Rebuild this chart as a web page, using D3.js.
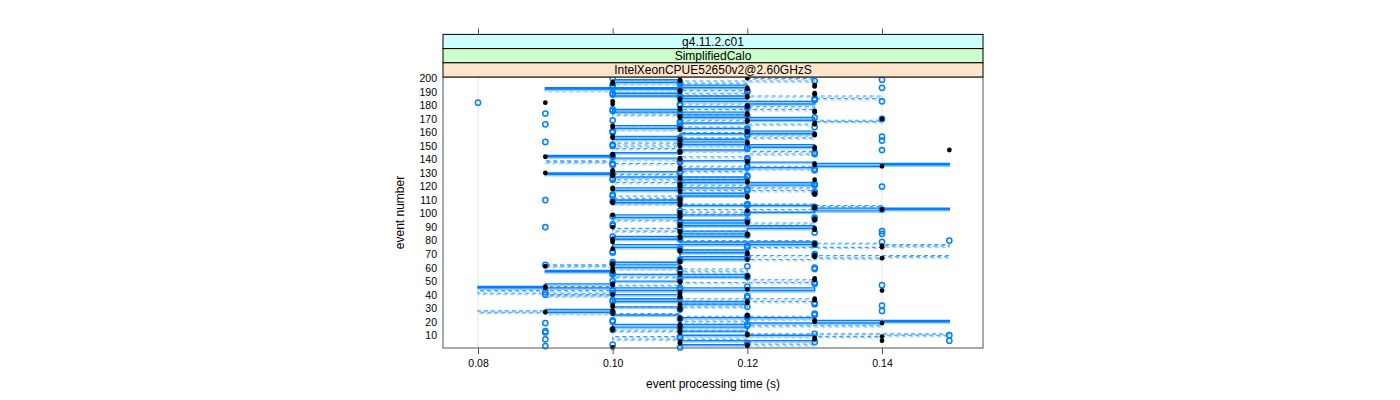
<!DOCTYPE html>
<html><head><meta charset="utf-8">
<script src="https://cdn.jsdelivr.net/npm/d3@7"></script>
<style>
body{margin:0;background:#fff}
text{font-family:"Liberation Sans",Arial,Helvetica,sans-serif;fill:#000}
</style>
</head><body>
<svg id="chart" width="1400" height="400"></svg>
<script>
// ---- data ----
const stripLabels = ["g4.11.2.c01", "SimplifiedCalo", "IntelXeonCPUE52650v2@2.60GHzS"];
const stripColors = ["#ccffff", "#ccffcc", "#ffe5cc"];
const xTickValues = [0.08, 0.10, 0.12, 0.14];
const xTickLabels = ["0.08", "0.10", "0.12", "0.14"];
const yTickValues = [10,20,30,40,50,60,70,80,90,100,110,120,130,140,150,160,170,180,190,200];
const xTitle = "event processing time (s)";
const yTitle = "event number";

// event times (s) for events 1..200
const blackTimes = [
0.10,0.12,0.12,0.11,0.11,0.14,0.13,0.13,0.14,0.12,
0.12,0.11,0.11,0.10,0.10,0.11,0.11,0.11,0.14,0.13,
0.13,0.11,0.11,0.12,0.12,0.10,0.09,0.10,0.11,0.11,
0.10,0.10,0.11,0.12,0.12,0.13,0.13,0.11,0.11,0.10,
0.11,0.11,0.14,0.12,0.09,0.09,0.10,0.10,0.11,0.11,
0.13,0.13,0.12,0.12,0.11,0.11,0.10,0.10,0.10,0.11,
0.09,0.10,0.10,0.11,0.11,0.12,0.14,0.13,0.13,0.12,
0.12,0.11,0.11,0.10,0.14,0.14,0.13,0.13,0.10,0.10,
0.10,0.11,0.11,0.12,0.12,0.11,0.11,0.13,0.13,0.10,
0.11,0.11,0.12,0.12,0.13,0.13,0.11,0.11,0.10,0.11,
0.11,0.12,0.14,0.13,0.13,0.11,0.11,0.10,0.10,0.11,
0.11,0.12,0.12,0.13,0.13,0.11,0.11,0.10,0.10,0.11,
0.11,0.11,0.12,0.12,0.13,0.11,0.11,0.10,0.10,0.09,
0.10,0.10,0.11,0.11,0.14,0.13,0.13,0.12,0.12,0.11,
0.11,0.09,0.10,0.10,0.11,0.11,0.15,0.13,0.13,0.11,
0.11,0.12,0.12,0.11,0.11,0.10,0.10,0.13,0.13,0.12,
0.12,0.11,0.11,0.10,0.10,0.13,0.13,0.12,0.12,0.14,
0.11,0.11,0.12,0.12,0.13,0.13,0.11,0.11,0.12,0.12,
0.10,0.09,0.10,0.11,0.11,0.12,0.12,0.13,0.13,0.11,
0.11,0.12,0.12,0.13,0.13,0.10,0.10,0.11,0.11,0.12];

const blueTimes = [
0.11,0.09,0.10,0.12,0.13,0.15,0.09,0.11,0.11,0.15,
0.13,0.09,0.09,0.10,0.11,0.11,0.12,0.12,0.09,0.10,
0.10,0.11,0.12,0.12,0.13,0.13,0.10,0.14,0.11,0.11,
0.12,0.14,0.13,0.13,0.10,0.10,0.11,0.12,0.12,0.09,
0.10,0.09,0.10,0.11,0.11,0.12,0.14,0.13,0.13,0.10,
0.11,0.11,0.12,0.12,0.10,0.10,0.11,0.11,0.13,0.13,
0.12,0.09,0.10,0.10,0.11,0.11,0.12,0.12,0.13,0.13,
0.10,0.10,0.11,0.11,0.12,0.12,0.13,0.13,0.14,0.15,
0.11,0.11,0.10,0.12,0.14,0.13,0.14,0.11,0.11,0.09,
0.10,0.10,0.11,0.11,0.12,0.13,0.13,0.10,0.11,0.12,
0.12,0.11,0.14,0.13,0.13,0.12,0.12,0.11,0.10,0.09,
0.11,0.11,0.10,0.10,0.13,0.13,0.12,0.12,0.11,0.14,
0.13,0.13,0.11,0.11,0.10,0.10,0.12,0.12,0.10,0.11,
0.11,0.13,0.13,0.12,0.12,0.10,0.10,0.11,0.11,0.12,
0.12,0.10,0.10,0.13,0.13,0.11,0.14,0.12,0.12,0.10,
0.10,0.11,0.09,0.14,0.11,0.11,0.14,0.12,0.12,0.10,
0.10,0.12,0.12,0.13,0.11,0.09,0.11,0.11,0.10,0.14,
0.13,0.12,0.11,0.09,0.11,0.10,0.10,0.12,0.12,0.11,
0.11,0.08,0.14,0.13,0.13,0.11,0.11,0.10,0.10,0.12,
0.12,0.11,0.14,0.10,0.10,0.11,0.11,0.13,0.14,0.10];

const solidTimes = [
0.12,0.12,0.11,0.11,0.11,0.13,0.13,0.13,0.13,0.11,
0.11,0.11,0.12,0.12,0.12,0.10,0.10,0.12,0.14,0.15,
0.13,0.13,0.11,0.11,0.10,0.10,0.09,0.09,0.10,0.10,
0.11,0.11,0.12,0.12,0.10,0.10,0.11,0.11,0.11,0.10,
0.10,0.10,0.13,0.13,0.08,0.09,0.09,0.10,0.10,0.11,
0.11,0.11,0.12,0.12,0.10,0.10,0.09,0.10,0.10,0.11,
0.11,0.10,0.10,0.11,0.11,0.12,0.12,0.11,0.11,0.11,
0.12,0.12,0.11,0.11,0.10,0.10,0.13,0.13,0.11,0.11,
0.10,0.10,0.12,0.12,0.11,0.11,0.12,0.12,0.13,0.13,
0.11,0.11,0.12,0.12,0.11,0.11,0.10,0.10,0.12,0.12,
0.13,0.14,0.15,0.13,0.13,0.11,0.11,0.10,0.10,0.11,
0.11,0.11,0.12,0.12,0.11,0.11,0.10,0.10,0.12,0.12,
0.13,0.13,0.11,0.11,0.12,0.12,0.10,0.10,0.09,0.10,
0.11,0.11,0.12,0.13,0.14,0.15,0.13,0.12,0.11,0.11,
0.10,0.09,0.10,0.10,0.11,0.11,0.12,0.12,0.13,0.13,
0.11,0.11,0.12,0.12,0.10,0.10,0.11,0.11,0.13,0.13,
0.12,0.12,0.10,0.10,0.11,0.11,0.12,0.12,0.13,0.13,
0.11,0.11,0.12,0.12,0.10,0.10,0.11,0.11,0.12,0.12,
0.13,0.13,0.11,0.11,0.12,0.12,0.10,0.10,0.11,0.11,
0.11,0.09,0.12,0.12,0.11,0.11,0.10,0.10,0.11,0.11];

const dashedTimes = [
0.11,0.11,0.13,0.13,0.12,0.12,0.10,0.10,0.14,0.15,
0.12,0.12,0.10,0.10,0.12,0.12,0.14,0.12,0.12,0.11,
0.11,0.13,0.13,0.11,0.11,0.09,0.08,0.09,0.10,0.10,
0.12,0.12,0.11,0.11,0.13,0.13,0.10,0.10,0.09,0.10,
0.08,0.08,0.10,0.10,0.08,0.10,0.11,0.11,0.13,0.13,
0.12,0.12,0.10,0.10,0.11,0.11,0.12,0.12,0.10,0.10,
0.09,0.10,0.10,0.11,0.11,0.13,0.14,0.15,0.12,0.12,
0.11,0.11,0.12,0.12,0.14,0.15,0.14,0.13,0.13,0.11,
0.10,0.10,0.11,0.11,0.12,0.12,0.10,0.10,0.11,0.11,
0.13,0.13,0.12,0.12,0.10,0.10,0.11,0.11,0.12,0.12,
0.11,0.11,0.13,0.13,0.14,0.13,0.10,0.10,0.11,0.11,
0.10,0.10,0.12,0.12,0.11,0.11,0.13,0.13,0.12,0.12,
0.11,0.11,0.10,0.10,0.12,0.12,0.11,0.11,0.10,0.10,
0.12,0.12,0.13,0.13,0.11,0.11,0.10,0.09,0.10,0.11,
0.11,0.12,0.12,0.13,0.13,0.11,0.11,0.10,0.10,0.12,
0.12,0.10,0.10,0.11,0.11,0.13,0.13,0.12,0.12,0.11,
0.11,0.10,0.10,0.12,0.12,0.13,0.13,0.14,0.11,0.11,
0.12,0.12,0.10,0.10,0.11,0.11,0.13,0.13,0.12,0.12,
0.11,0.11,0.13,0.13,0.14,0.14,0.10,0.10,0.12,0.12,
0.09,0.11,0.11,0.12,0.12,0.10,0.10,0.13,0.13,0.12];

// ---- layout ----
const svg = d3.select("#chart");
const P = {left: 443, right: 983, top: 77, bottom: 348};
const stripH = 14.2, nStrips = stripLabels.length;
const stripTop = P.top - stripH * nStrips;

const x = d3.scaleLinear().domain([0.0748, 0.155]).range([P.left, P.right]);
const y = d3.scaleLinear().domain([0.55, 201.0]).range([P.bottom, P.top]);

const events = d3.range(1, 201);
const mk = arr => events.map((e, i) => ({e, t: arr[i]}));

// reference grid lines
svg.append("g").selectAll("line").data(xTickValues).join("line")
  .attr("x1", d => x(d)).attr("x2", d => x(d))
  .attr("y1", P.top).attr("y2", P.bottom)
  .attr("stroke", "#e6e6e6").attr("stroke-width", 1);

const plot = svg.append("g");
const stepAfter = d3.line().x(d => x(d.t)).y(d => y(d.e)).curve(d3.curveStepAfter);
const stepBefore = d3.line().x(d => x(d.t)).y(d => y(d.e)).curve(d3.curveStepBefore);

function drawLine(arr, gen, color, width, dash) {
  const p = plot.append("path").datum(mk(arr)).attr("d", gen)
    .attr("fill", "none").attr("stroke", color).attr("stroke-width", width)
    .attr("stroke-linejoin", "miter");
  if (dash) p.attr("stroke-dasharray", dash);
}
drawLine(dashedTimes, stepAfter, "#a6d2ff", 1.2, "4,3");
drawLine(dashedTimes, stepBefore, "#3d9eff", 1.1, "4,3");
drawLine(solidTimes, stepAfter, "#99ccff", 1.4, null);
drawLine(solidTimes, stepBefore, "#0080ff", 1.4, null);

plot.append("g").selectAll("circle").data(mk(blueTimes)).join("circle")
  .attr("cx", d => x(d.t)).attr("cy", d => y(d.e)).attr("r", 2.6)
  .attr("fill", "none").attr("stroke", "#0080ff").attr("stroke-width", 1.5);
plot.append("g").selectAll("circle").data(mk(blackTimes)).join("circle")
  .attr("cx", d => x(d.t)).attr("cy", d => y(d.e)).attr("r", 2.4)
  .attr("fill", "#000");

// panel border
svg.append("rect").attr("x", P.left).attr("y", P.top)
  .attr("width", P.right - P.left).attr("height", P.bottom - P.top)
  .attr("fill", "none").attr("stroke", "#555").attr("stroke-width", 1);

// strips
const strips = svg.append("g");
stripLabels.forEach((lab, i) => {
  const y0 = stripTop + i * stripH;
  strips.append("rect").attr("x", P.left).attr("y", y0)
    .attr("width", P.right - P.left).attr("height", stripH)
    .attr("fill", stripColors[i]).attr("stroke", "#000").attr("stroke-width", 1);
  strips.append("text").attr("x", (P.left + P.right) / 2).attr("y", y0 + stripH / 2)
    .attr("dy", "0.36em").attr("text-anchor", "middle").attr("font-size", 12).text(lab);
});

// bottom axis
const xAxis = d3.axisBottom(x).tickValues(xTickValues)
  .tickFormat((d, i) => xTickLabels[i]).tickSizeOuter(0).tickSize(6).tickPadding(6);
const gx = svg.append("g").attr("transform", `translate(0,${P.bottom})`).call(xAxis);
gx.select(".domain").remove();
gx.selectAll("line").attr("stroke", "#555");
gx.selectAll("text").attr("font-size", 10.5).attr("font-family", "Liberation Sans, Arial, sans-serif");

// top axis ticks (no labels) above strips
const xAxisTop = d3.axisTop(x).tickValues(xTickValues).tickFormat("").tickSizeOuter(0).tickSize(6);
const gxt = svg.append("g").attr("transform", `translate(0,${stripTop})`).call(xAxisTop);
gxt.select(".domain").remove();
gxt.selectAll("line").attr("stroke", "#555");

// left axis labels
const yAxis = d3.axisLeft(y).tickValues(yTickValues).tickSize(0).tickPadding(6).tickSizeOuter(0);
const gy = svg.append("g").attr("transform", `translate(${P.left},0)`).call(yAxis);
gy.select(".domain").remove();
gy.selectAll("text").attr("font-size", 10.5).attr("font-family", "Liberation Sans, Arial, sans-serif");

// titles
svg.append("text").attr("x", (P.left + P.right) / 2).attr("y", 388)
  .attr("text-anchor", "middle").attr("font-size", 12).text(xTitle);
svg.append("text").attr("transform", `translate(404,${(P.top + P.bottom) / 2}) rotate(-90)`)
  .attr("text-anchor", "middle").attr("font-size", 12).text(yTitle);
</script>
</body></html>
